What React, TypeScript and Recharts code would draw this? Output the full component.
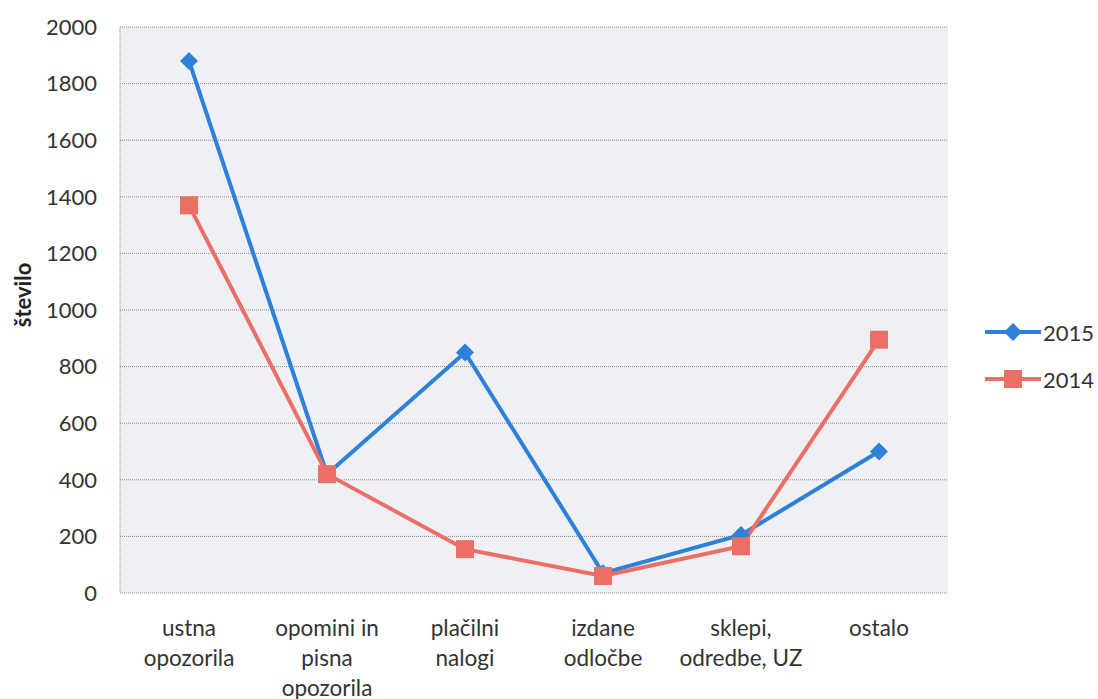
import React from 'react';
import { LineChart, Line, XAxis, YAxis, CartesianGrid, Legend } from 'recharts';

const categoryLines = [
  ['ustna', 'opozorila'],
  ['opomini in', 'pisna', 'opozorila'],
  ['plačilni', 'nalogi'],
  ['izdane', 'odločbe'],
  ['sklepi,', 'odredbe, UZ'],
  ['ostalo'],
];
const categories = categoryLines.map(l => l.join(' '));
const values2015 = [1880, 420, 850, 70, 205, 500];
const values2014 = [1370, 420, 155, 60, 165, 895];
const yTicks = [0, 200, 400, 600, 800, 1000, 1200, 1400, 1600, 1800, 2000];

const data = categories.map((c, i) => ({ name: c, y2015: values2015[i], y2014: values2014[i] }));

const BLUE = '#2f80d9';
const RED = '#ec6f66';
const FONT = 'Lato, "Open Sans", sans-serif';

function Diamond(props: any) {
  const { cx, cy } = props;
  if (cx == null || cy == null) return null;
  const r = 9;
  return <path d={`M${cx},${cy - r}L${cx + r},${cy}L${cx},${cy + r}L${cx - r},${cy}Z`} fill={BLUE} />;
}

function Square(props: any) {
  const { cx, cy } = props;
  if (cx == null || cy == null) return null;
  const s = 9;
  return <rect x={cx - s} y={cy - s} width={s * 2} height={s * 2} fill={RED} />;
}

function XTick(props: any) {
  const { x, y, payload } = props;
  const lines = categoryLines[payload.index] ?? [payload.value];
  return (
    <text x={x} y={y} textAnchor="middle" fill="#333" fontSize={22.5} fontFamily={FONT}>
      {lines.map((l, i) => (
        <tspan key={i} x={x} dy={i === 0 ? 15 : 30}>{l}</tspan>
      ))}
    </text>
  );
}

function LegendContent() {
  const items = [
    { name: '2015', color: BLUE, shape: 'diamond' },
    { name: '2014', color: RED, shape: 'square' },
  ];
  return (
    <div style={{ width: 150, fontFamily: FONT, fontSize: 22, color: '#333', paddingTop: 12 }}>
      {items.map(it => (
        <div key={it.name} style={{ display: 'flex', alignItems: 'center', height: 47, paddingLeft: 37 }}>
          <svg width={56} height={24}>
            <line x1={0} y1={12} x2={56} y2={12} stroke={it.color} strokeWidth={4} />
            {it.shape === 'diamond'
              ? <path d="M28,3L37,12L28,21L19,12Z" fill={it.color} />
              : <rect x={19} y={3} width={18} height={18} fill={it.color} />}
          </svg>
          <span style={{ marginLeft: 2 }}>{it.name}</span>
        </div>
      ))}
    </div>
  );
}

export default function App() {
  return (
    <div style={{ position: 'absolute', left: 0, top: 0, width: 1098, height: 699, background: '#fff' }}>
      <LineChart width={1098} height={699} data={data} margin={{ top: 27, right: 0, left: 0, bottom: 0 }}>
        <CartesianGrid vertical={false} stroke="#8a8a8a" strokeDasharray="1 1" fill="#eef0f4" />
        <XAxis dataKey="name" height={106} tickLine={false} axisLine={false} interval={0} tick={<XTick />} tickMargin={22} padding={{ left: 69, right: 69 }} />
        <YAxis
          width={120}
          domain={[0, 2000]}
          ticks={yTicks}
          tickLine={false}
          axisLine={{ stroke: '#8a8a8a', strokeDasharray: '1 1' }}
          tickMargin={17}
          tick={{ fill: '#333', fontSize: 22, fontFamily: FONT }}
          label={{ value: 'število', angle: -90, position: 'center', dx: -37, dy: -15, style: { fill: '#222', fontSize: 22, fontWeight: 700, fontFamily: FONT } }}
        />
        <YAxis yAxisId="r" orientation="right" width={0} domain={[0, 2000]} tick={false} tickLine={false} axisLine={{ stroke: '#8a8a8a', strokeDasharray: '1 1' }} />
        <Legend layout="vertical" align="right" verticalAlign="middle" content={<LegendContent />} />
        <Line dataKey="y2015" name="2015" stroke={BLUE} strokeWidth={4} dot={<Diamond />} activeDot={false} isAnimationActive={false} />
        <Line dataKey="y2014" name="2014" stroke={RED} strokeWidth={4} dot={<Square />} activeDot={false} isAnimationActive={false} />
      </LineChart>
    </div>
  );
}
